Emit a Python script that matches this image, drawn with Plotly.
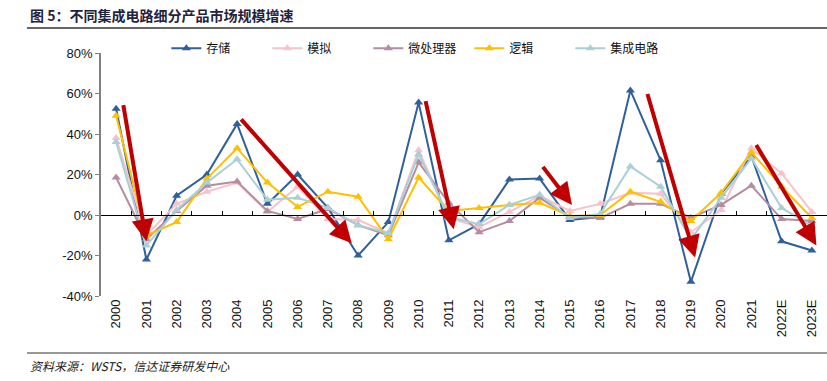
import plotly.graph_objects as go

years = ['2000', '2001', '2002', '2003', '2004', '2005', '2006', '2007', '2008', '2009',
         '2010', '2011', '2012', '2013', '2014', '2015', '2016', '2017', '2018', '2019',
         '2020', '2021', '2022E', '2023E']

storage = [52.5, -22, 9.5, 20, 45, 5.5, 20, 3.5, -20, -3.5, 55.5, -12.5, -4.5, 17.5, 18,
           -2.5, -1, 61.5, 27, -33, 10.5, 29, -13, -17.5]
analog = [38, -10, 5.5, 11.5, 16, 1.5, 14, -2, -2.5, -9, 32, -1.5, -6, 1.5, 9.5,
          2, 5.5, 11, 10.5, -8.5, 2.5, 33, 20.5, 1.5]
mpu = [18.5, -12, 2, 14.5, 16.5, 2, -2, 3, -5, -10, 26, 6, -8.5, -3, 8.5,
       -1, -1.5, 5.5, 5.5, -1.3, 5, 14.5, -2, -3]
logic = [49, -10, -3.5, 18, 33, 16, 4, 11.5, 9, -12, 18.5, 2, 3.5, 5, 6,
         -0.5, 0, 11.5, 6.5, -3, 11, 31, 14, -1.5]
ic = [36, -15, 2.5, 16, 27.5, 7.5, 8.5, 3.5, -5, -9, 30, -1, -4.5, 5, 10,
      -1.5, 0.5, 24, 14, -12, 8.5, 28, 3.5, -5.5]

series_names = ['存储', '模拟', '微处理器', '逻辑', '集成电路']
series_values = [storage, analog, mpu, logic, ic]
series_colors = ['#30609C', '#F7C3CA', '#B58DA3', '#FFC000', '#A8D0D6']

# trend arrows: (tail index, tail value, head index, head value)
arrows = [(0.23, 55, 1.0, -13), (4.09, 48, 7.79, -14), (10.22, 57, 11.16, -7),
          (14.07, 24.5, 15.07, 5), (17.55, 60.5, 19.14, -21), (21.13, 35.3, 23.15, -15)]

yticks = [-40, -20, 0, 20, 40, 60, 80]
ytick_labels = ['-40%', '-20%', '0%', '20%', '40%', '60%', '80%']

title_text = '图 5：不同集成电路细分产品市场规模增速'
source_text = '资料来源：WSTS，信达证券研发中心'

FONT = 'Liberation Sans, Noto Sans CJK SC, sans-serif'
CJK = 'Noto Sans CJK SC, sans-serif'

fig = go.Figure()
for name, vals, col in zip(series_names, series_values, series_colors):
    fig.add_trace(go.Scatter(
        x=years, y=vals, name=name, mode='lines+markers',
        line=dict(color=col, width=2),
        marker=dict(symbol='triangle-up', size=8, color=col),
    ))

# helper trace for the zero-line axis
fig.add_trace(go.Scatter(x=years, y=[None] * len(years), xaxis='x2', showlegend=False,
                         hoverinfo='skip', mode='lines'))

for (x0, y0, x1, y1) in arrows:
    fig.add_annotation(x=x1, y=y1, ax=x0, ay=y0, xref='x', yref='y', axref='x', ayref='y',
                       text='', showarrow=True, arrowhead=2, arrowsize=1.1,
                       arrowwidth=4, arrowcolor='#C00000', standoff=0, startstandoff=0)

fig.add_annotation(x=-0.1, y=1.156, xref='paper', yref='paper', xanchor='left', yanchor='middle',
                   text='<b>' + title_text + '</b>', showarrow=False,
                   font=dict(family=CJK, size=14, color='#1F2340'))
fig.add_annotation(x=-0.1, y=-0.288, xref='paper', yref='paper', xanchor='left', yanchor='middle',
                   text='<i>' + source_text + '</i>', showarrow=False,
                   font=dict(family=CJK, size=12, color='#222222'))

fig.add_shape(type='line', xref='paper', yref='paper', x0=-0.102, x1=1.0, y0=1.103, y1=1.103,
              line=dict(color='#333333', width=1.5))
fig.add_shape(type='line', xref='paper', yref='paper', x0=-0.102, x1=1.0, y0=-0.2346, y1=-0.2346,
              line=dict(color='#333333', width=1))

fig.update_layout(
    width=827, height=381,
    margin=dict(l=101, r=0, t=53, b=85, autoexpand=False),
    paper_bgcolor='white', plot_bgcolor='white',
    showlegend=True,
    legend=dict(orientation='h', x=0.09, y=1.02, xanchor='left', yanchor='middle',
                font=dict(family=CJK, size=12, color='#111111'),
                itemwidth=30, bgcolor='rgba(0,0,0,0)', entrywidth=56, entrywidthmode='pixels'),
    xaxis=dict(type='category', categoryorder='array', categoryarray=years,
               range=[-0.5, len(years) - 0.5], showline=False, showgrid=False, ticks='',
               tickangle=-90, tickfont=dict(family=FONT, size=13, color='#111111'),
               zeroline=False, fixedrange=True, automargin=False),
    xaxis2=dict(type='category', categoryorder='array', categoryarray=years,
                range=[-0.5, len(years) - 0.5], overlaying='x', anchor='free', position=1 / 3,
                side='bottom', showline=True, linecolor='#000000', linewidth=1.3,
                ticks='inside', ticklen=4, tickcolor='#000000', tickson='boundaries',
                showticklabels=False, showgrid=False, zeroline=False, automargin=False),
    yaxis=dict(range=[-40, 80], tickvals=yticks, ticktext=ytick_labels,
               showline=True, linecolor='#808080', linewidth=1.5,
               ticks='outside', ticklen=4, tickcolor='#808080',
               showgrid=False, zeroline=False, automargin=False,
               tickfont=dict(family=FONT, size=13, color='#111111')),
)

fig.write_html('out.html', config={'displayModeBar': False},
               post_script="document.body.style.margin='0';document.body.style.overflow='hidden';")
